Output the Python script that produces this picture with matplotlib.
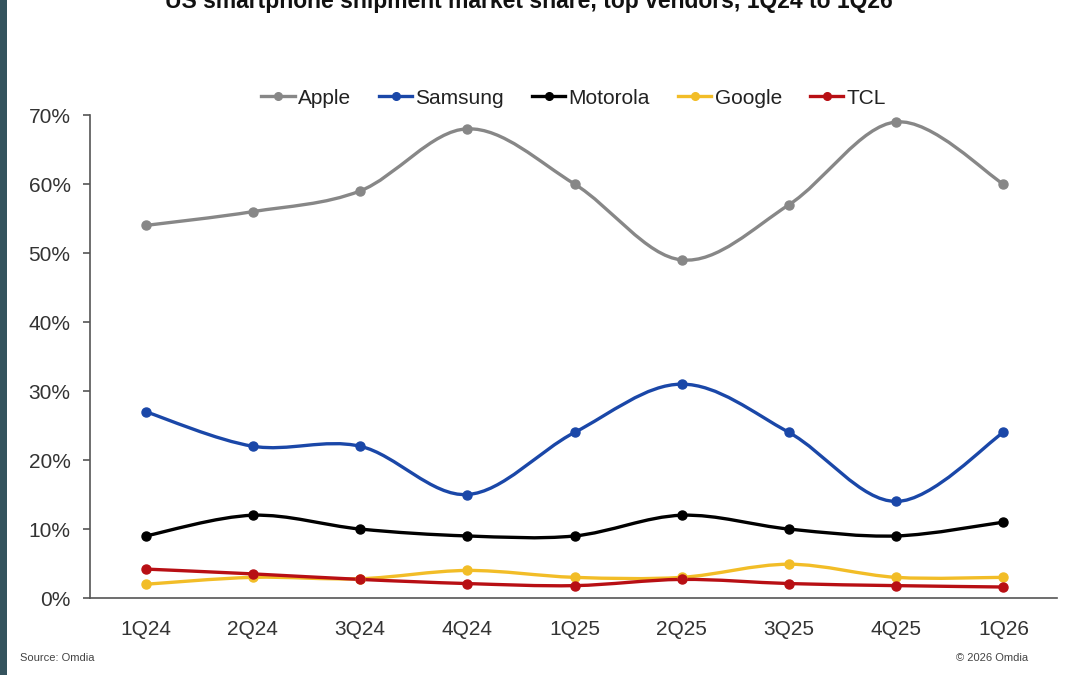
import numpy as np
import matplotlib
matplotlib.use("Agg")
from matplotlib import pyplot as plt
from matplotlib.path import Path
from matplotlib.patches import PathPatch, Rectangle
from matplotlib.lines import Line2D

quarters = ['1Q24', '2Q24', '3Q24', '4Q24', '1Q25', '2Q25', '3Q25', '4Q25', '1Q26']

apple = [54, 56, 59, 68, 60, 49, 57, 69, 60]
samsung = [27, 22, 22, 15, 24, 31, 24, 14, 24]
motorola = [9, 12, 10, 9, 9, 12, 10, 9, 11]
google = [2, 3, 2.8, 4, 3, 3, 4.9, 3, 3]
tcl = [4.2, 3.5, 2.7, 2.1, 1.8, 2.7, 2.1, 1.8, 1.6]

series = [
    ('Apple', apple, '#878787'),
    ('Samsung', samsung, '#1a47a8'),
    ('Motorola', motorola, '#000000'),
    ('Google', google, '#f2bd27'),
    ('TCL', tcl, '#b80f14'),
]

plt.rcParams['font.family'] = ['Liberation Sans', 'DejaVu Sans']


def smooth_path(xs, ys):
    # excel style smoothed line: bezier segments with catmull-rom control points
    pts = np.column_stack([xs, ys]).astype(float)
    n = len(pts)
    verts = [pts[0]]
    codes = [Path.MOVETO]
    for i in range(n - 1):
        p0 = pts[i - 1] if i > 0 else pts[i]
        p1 = pts[i]
        p2 = pts[i + 1]
        p3 = pts[i + 2] if i + 2 < n else pts[i + 1]
        c1 = p1 + (p2 - p0) / 6.0
        c2 = p2 - (p3 - p1) / 6.0
        verts += [c1, c2, p2]
        codes += [Path.CURVE4] * 3
    return Path(verts, codes)


fig = plt.figure(figsize=(10.8, 6.75), dpi=100)
ax = fig.add_axes([0.0833, 0.114, 0.8954, 0.7156])

# dark strip at the left edge of the screenshot
fig.patches.append(Rectangle((0, 0), 7 / 1080, 1, transform=fig.transFigure,
                             facecolor='#34535d', edgecolor='none'))

x = np.arange(len(quarters))
handles = []
for nome, valores, cor in series:
    v = np.array(valores) / 100.0
    ax.add_patch(PathPatch(smooth_path(x, v), facecolor='none', edgecolor=cor,
                           linewidth=2.4, capstyle='round', joinstyle='round', zorder=3))
    ax.plot(x, v, linestyle='none', marker='o', markersize=6.5, color=cor, zorder=4)
    handles.append(Line2D([0], [0], color=cor, linewidth=2.4, marker='o', markersize=5.5))

ax.set_xlim(-0.52, 8.5)
ax.set_ylim(0, 0.70)
ax.set_yticks(np.arange(0, 0.71, 0.1))
ax.set_yticklabels([f'{int(round(t * 100))}%' for t in np.arange(0, 0.71, 0.1)])
ax.set_xticks(x)
ax.set_xticklabels(quarters)

for s in ['top', 'right']:
    ax.spines[s].set_visible(False)
for s in ['left', 'bottom']:
    ax.spines[s].set_color('#555555')
    ax.spines[s].set_linewidth(1.2)

ax.tick_params(axis='y', direction='out', length=5, width=1.2, color='#555555',
               labelsize=15, labelcolor='#333333', pad=9)
ax.tick_params(axis='x', length=0, labelsize=15, labelcolor='#333333', pad=16)

ax.legend(handles, [s[0] for s in series], loc='center', bbox_to_anchor=(0.5, 1.035),
          ncol=5, frameon=False, fontsize=15, handlelength=1.6, handletextpad=0.15,
          columnspacing=1.35, labelcolor='#222222')

fig.text(0.49, 1 - 8 / 675, 'US smartphone shipment market share, top vendors, 1Q24 to 1Q26',
         ha='center', va='baseline', fontsize=16.5, fontweight='bold', color='#111111')
fig.text(20 / 1080, 1 - 658 / 675, 'Source: Omdia', ha='left', va='center',
         fontsize=8, color='#444444')
fig.text(1028 / 1080, 1 - 658 / 675, '\u00a9 2026 Omdia', ha='right', va='center',
         fontsize=8, color='#444444')

fig.savefig('out.png', dpi=100)
